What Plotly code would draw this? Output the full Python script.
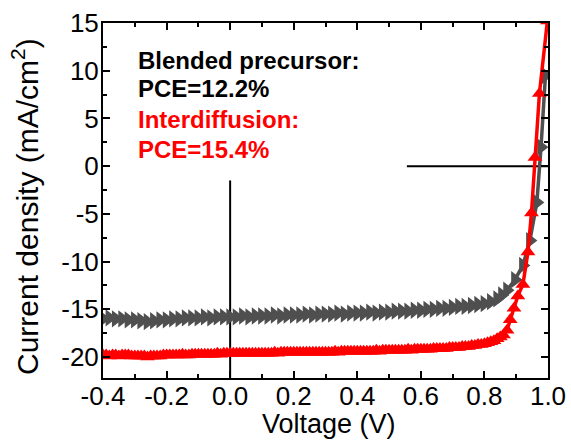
import plotly.graph_objects as go

# Blended precursor (gray, right triangles)
gray_v = [-0.40, -0.38, -0.36, -0.34, -0.32, -0.30, -0.28, -0.26, -0.24, -0.22,
          -0.20, -0.18, -0.16, -0.14, -0.12, -0.10, -0.08, -0.06, -0.04, -0.02,
          0.00, 0.02, 0.04, 0.06, 0.08, 0.10, 0.12, 0.14, 0.16, 0.18,
          0.20, 0.22, 0.24, 0.26, 0.28, 0.30, 0.32, 0.34, 0.36, 0.38,
          0.40, 0.42, 0.44, 0.46, 0.48, 0.50, 0.52, 0.54, 0.56, 0.58,
          0.60, 0.62, 0.64, 0.66, 0.68, 0.70, 0.72, 0.74, 0.76, 0.78,
          0.80, 0.82, 0.84, 0.855, 0.871, 0.896, 0.921, 0.943, 0.965, 0.978, 0.992]
gray_j = [-16.0, -15.9, -16.0, -16.0, -16.1, -16.1, -16.2, -16.3, -16.2, -16.1,
          -16.1, -16.0, -16.0, -15.9, -15.9, -15.9, -15.8, -15.9, -15.8, -15.8,
          -15.8, -15.8, -15.7, -15.8, -15.7, -15.7, -15.7, -15.6, -15.7, -15.6,
          -15.6, -15.6, -15.5, -15.6, -15.5, -15.5, -15.5, -15.4, -15.5, -15.4,
          -15.4, -15.4, -15.3, -15.4, -15.3, -15.3, -15.2, -15.2, -15.2, -15.1,
          -15.1, -15.0, -15.0, -14.9, -14.9, -14.8, -14.7, -14.7, -14.6, -14.5,
          -14.4, -14.2, -13.9, -13.5, -13.0, -11.9, -10.4, -7.8, -3.8, 2.0, 9.5]

# Interdiffusion (red, up triangles)
red_v = [-0.40, -0.39, -0.38, -0.37, -0.36, -0.35, -0.34, -0.33, -0.32, -0.31,
         -0.30, -0.29, -0.28, -0.27, -0.26, -0.25, -0.24, -0.23, -0.22, -0.21,
         -0.20, -0.19, -0.18, -0.17, -0.16, -0.15, -0.14, -0.13, -0.12, -0.11,
         -0.10, -0.09, -0.08, -0.07, -0.06, -0.05, -0.04, -0.03, -0.02, -0.01,
         0.00, 0.01, 0.02, 0.03, 0.04, 0.05, 0.06, 0.07, 0.08, 0.09,
         0.10, 0.11, 0.12, 0.13, 0.14, 0.15, 0.16, 0.17, 0.18, 0.19,
         0.20, 0.21, 0.22, 0.23, 0.24, 0.25, 0.26, 0.27, 0.28, 0.29,
         0.30, 0.31, 0.32, 0.33, 0.34, 0.35, 0.36, 0.37, 0.38, 0.39,
         0.40, 0.41, 0.42, 0.43, 0.44, 0.45, 0.46, 0.47, 0.48, 0.49,
         0.50, 0.51, 0.52, 0.53, 0.54, 0.55, 0.56, 0.57, 0.58, 0.59,
         0.60, 0.61, 0.62, 0.63, 0.64, 0.65, 0.66, 0.67, 0.68, 0.69,
         0.70, 0.71, 0.72, 0.73, 0.74, 0.75, 0.76, 0.77, 0.78, 0.79,
         0.80, 0.81, 0.82, 0.83, 0.84, 0.85, 0.86,
         0.871, 0.881, 0.893, 0.905, 0.921, 0.937, 0.948, 0.959, 0.973, 0.998]
red_j = [-19.8, -19.8, -19.9, -19.8, -19.8, -19.9, -19.8, -19.8, -19.8, -19.9,
         -19.9, -19.9, -19.9, -19.9, -20.0, -19.9, -19.9, -19.9, -19.9, -19.8,
         -19.8, -19.8, -19.8, -19.8, -19.8, -19.7, -19.8, -19.8, -19.7, -19.7,
         -19.7, -19.7, -19.7, -19.7, -19.7, -19.7, -19.6, -19.7, -19.6, -19.6,
         -19.6, -19.6, -19.6, -19.6, -19.6, -19.6, -19.6, -19.6, -19.6, -19.6,
         -19.6, -19.6, -19.6, -19.6, -19.5, -19.6, -19.5, -19.5, -19.5, -19.5,
         -19.5, -19.5, -19.5, -19.5, -19.5, -19.5, -19.5, -19.5, -19.5, -19.5,
         -19.5, -19.5, -19.5, -19.4, -19.5, -19.4, -19.4, -19.4, -19.4, -19.4,
         -19.4, -19.4, -19.4, -19.4, -19.4, -19.4, -19.3, -19.4, -19.3, -19.3,
         -19.3, -19.3, -19.3, -19.3, -19.3, -19.3, -19.2, -19.3, -19.2, -19.2,
         -19.2, -19.2, -19.2, -19.2, -19.1, -19.1, -19.1, -19.1, -19.1, -19.0,
         -19.0, -19.0, -19.0, -18.9, -18.9, -18.9, -18.8, -18.8, -18.7, -18.7,
         -18.6, -18.5, -18.4, -18.3, -18.1, -17.9, -17.7,
         -17.2, -16.1, -14.9, -13.6, -12.4, -9.0, -4.9, 0.9, 7.6, 15.2]

x_ticks = [-0.4, -0.2, 0.0, 0.2, 0.4, 0.6, 0.8, 1.0]
x_labels = ["-0.4", "-0.2", "0.0", "0.2", "0.4", "0.6", "0.8", "1.0"]
y_ticks = [-20, -15, -10, -5, 0, 5, 10, 15]
y_labels = ["-20", "-15", "-10", "-5", "0", "5", "10", "15"]

FONT = "Arial, Liberation Sans, sans-serif"

fig = go.Figure()
fig.add_trace(go.Scatter(x=gray_v, y=gray_j, mode="lines+markers",
                         line=dict(color="#4f4f4f", width=3.5),
                         marker=dict(symbol="triangle-right", size=15, color="#4f4f4f"),
                         showlegend=False))
fig.add_trace(go.Scatter(x=red_v, y=red_j, mode="lines+markers",
                         line=dict(color="#ff0000", width=3.5),
                         marker=dict(symbol="triangle-up", size=13, color="#ff0000"),
                         showlegend=False))

# partial zero lines
fig.add_shape(type="line", x0=0, x1=0, y0=-22.2, y1=-1.5, xref="x", yref="y",
              line=dict(color="black", width=2), layer="below")
fig.add_shape(type="line", x0=0.556, x1=1.0, y0=0, y1=0, xref="x", yref="y",
              line=dict(color="black", width=2), layer="below")

texts = [("Blended precursor:", "black", 0.895),
         ("PCE=12.2%", "black", 0.815),
         ("Interdiffusion:", "#ff0000", 0.728),
         ("PCE=15.4%", "#ff0000", 0.645)]
for t, c, yy in texts:
    fig.add_annotation(x=0.074, y=yy, xref="paper", yref="paper", text="<b>%s</b>" % t,
                       showarrow=False, xanchor="left", yanchor="middle",
                       font=dict(family=FONT, size=24, color=c))

# axis titles
fig.add_annotation(x=0.508, y=-0.13, xref="paper", yref="paper", text="Voltage (V)",
                   showarrow=False, xanchor="center", yanchor="middle",
                   font=dict(family=FONT, size=27, color="black"))
fig.add_annotation(x=-0.175, y=0.482, xref="paper", yref="paper",
                   text="Current density (mA/cm<sup>2</sup>)", textangle=-90,
                   showarrow=False, xanchor="center", yanchor="middle",
                   font=dict(family=FONT, size=30, color="black"))

axis_common = dict(showline=True, linecolor="black", linewidth=2, mirror="ticks",
                   ticks="inside", ticklen=7, tickwidth=2, tickcolor="black",
                   showgrid=False, zeroline=False, automargin=False,
                   tickfont=dict(family=FONT, size=26, color="black"))

fig.update_xaxes(range=[-0.4, 1.0], tickvals=x_ticks, ticktext=x_labels,
                 ticklabelstandoff=-6,
                 minor=dict(ticks="inside", ticklen=4, tickwidth=2, tickcolor="black", dtick=0.1),
                 **axis_common)
fig.update_yaxes(range=[-22.2, 15], tickvals=y_ticks, ticktext=y_labels,
                 ticklabelstandoff=-3,
                 minor=dict(ticks="inside", ticklen=4, tickwidth=2, tickcolor="black", dtick=2.5),
                 **axis_common)

fig.update_layout(width=571, height=444, margin=dict(l=103, r=23, t=23, b=66),
                  plot_bgcolor="white", paper_bgcolor="white")

fig.write_html("out.html", config={"displayModeBar": False},
               post_script="document.body.style.margin='0px';")
